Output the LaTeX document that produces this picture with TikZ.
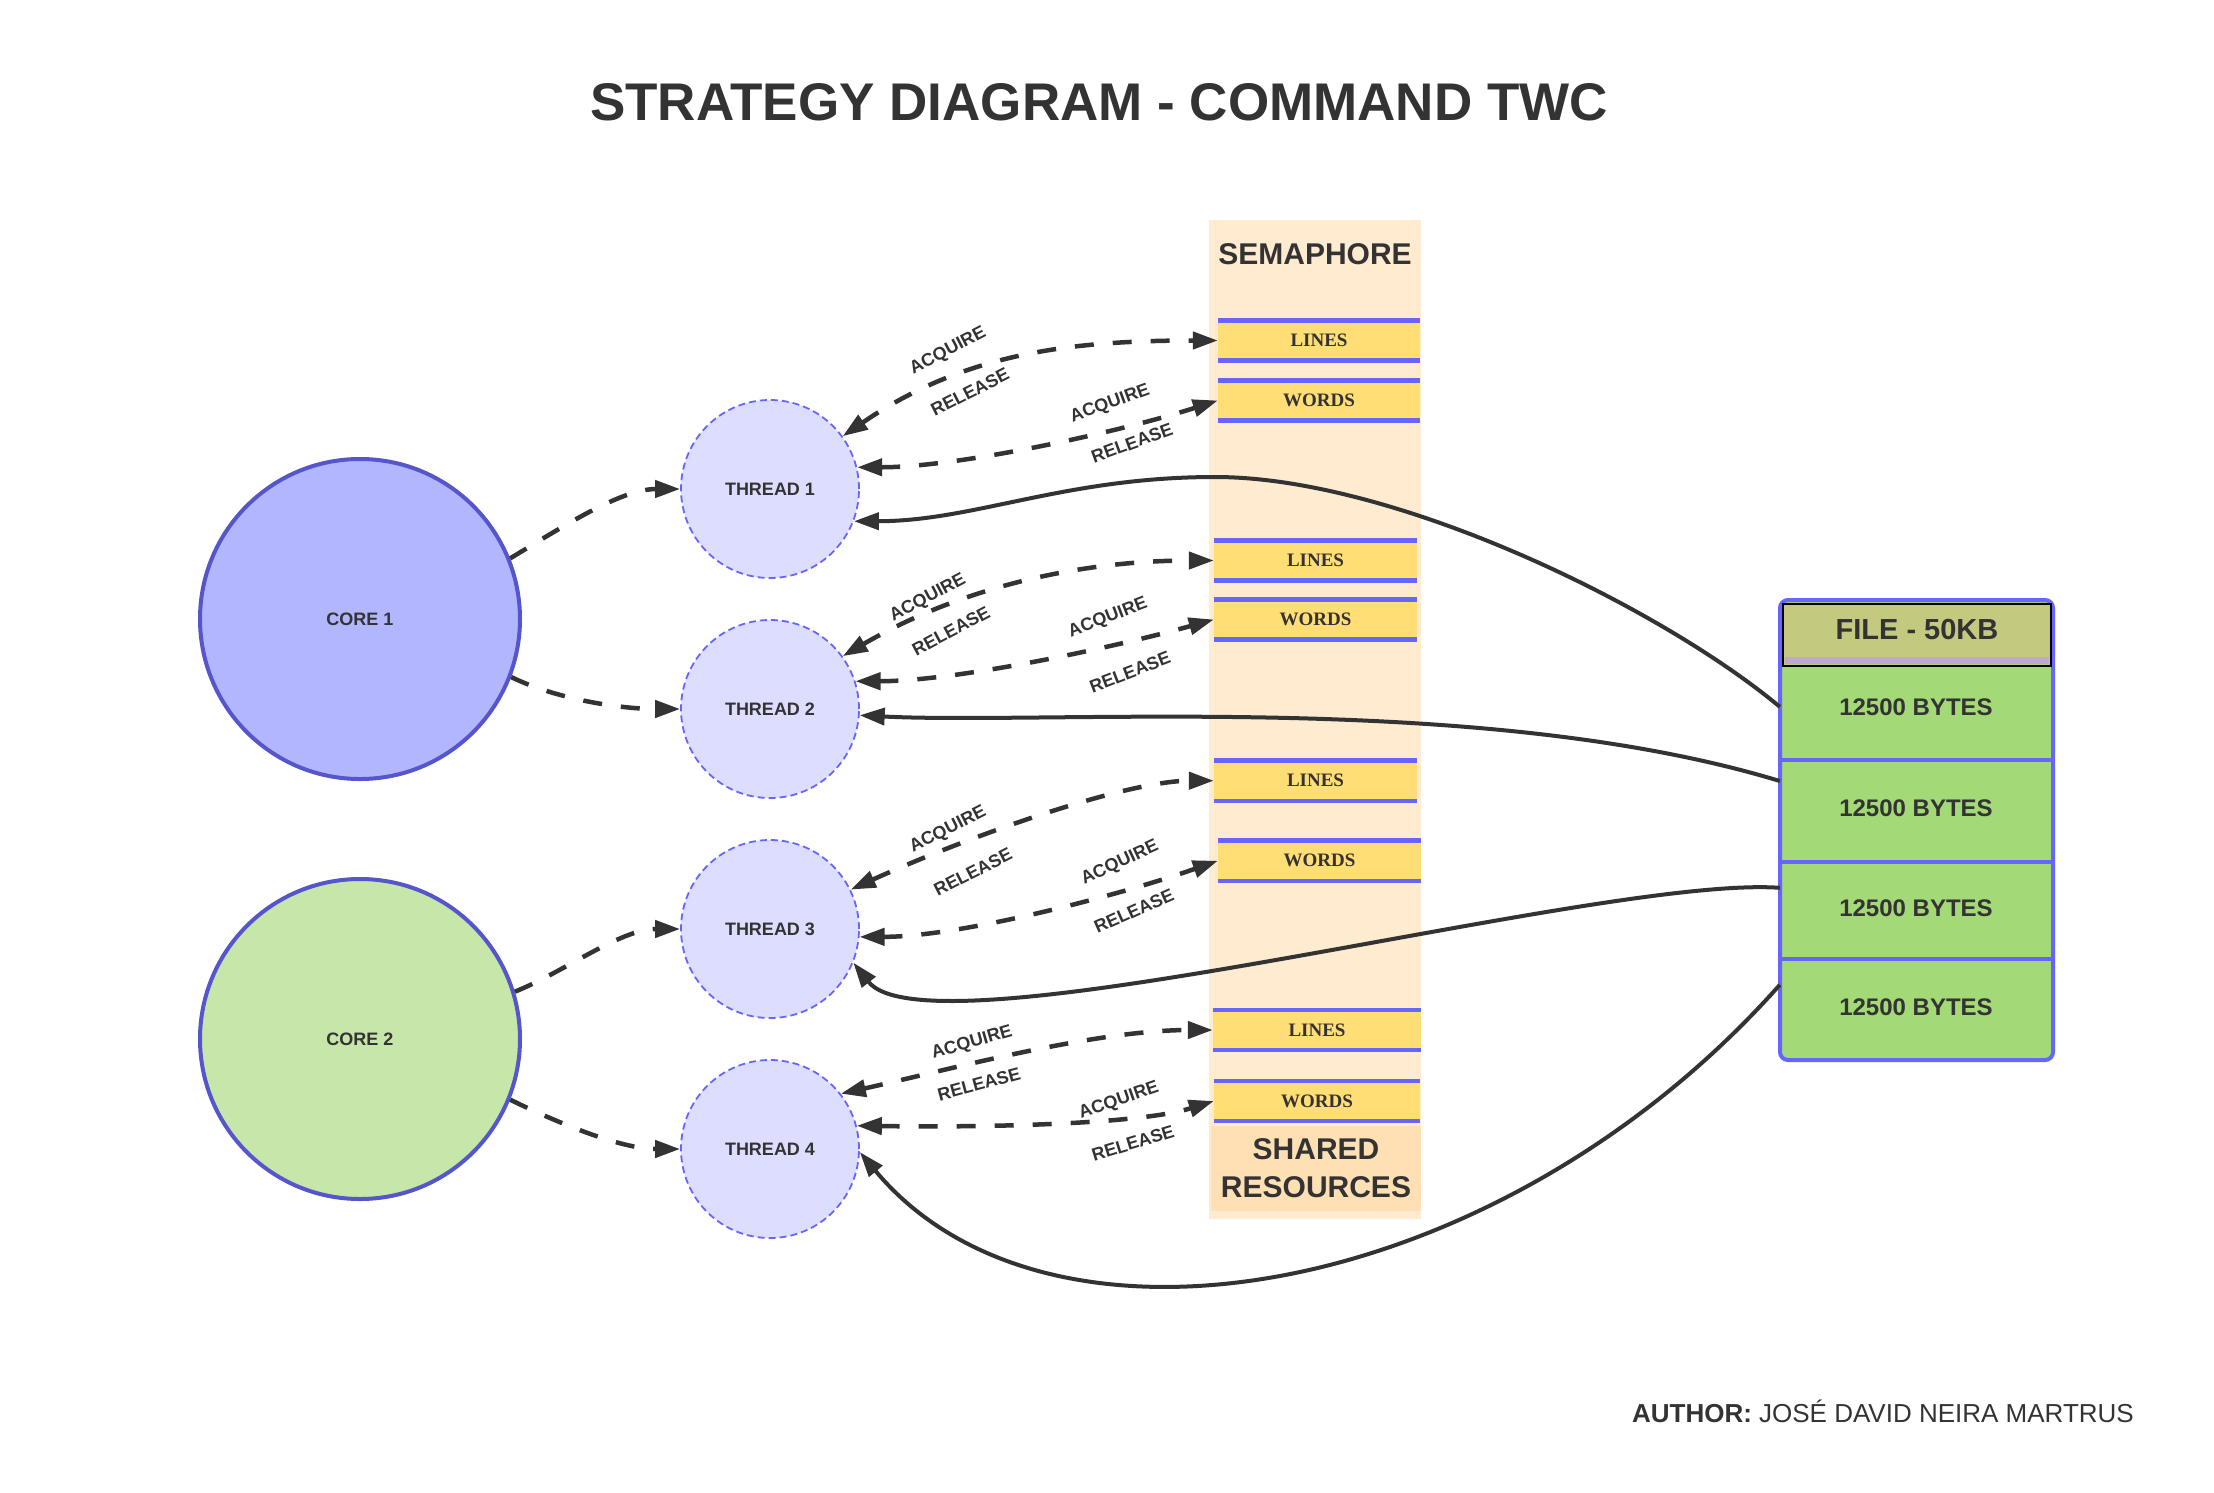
\documentclass[tikz,border=0pt]{standalone}
\usepackage{fontspec}
\setmainfont{Liberation Sans}
\newfontfamily\serifbars{Liberation Serif}
\usetikzlibrary{arrows.meta}
\definecolor{ink}{HTML}{333333}
\definecolor{coreA}{HTML}{B2B6FF}
\definecolor{coreB}{HTML}{C6E6AA}
\definecolor{coreline}{HTML}{5555CC}
\definecolor{thfill}{HTML}{DDDDFF}
\definecolor{thline}{HTML}{6666FF}
\definecolor{colfill}{HTML}{FFEBD0}
\definecolor{srfill}{HTML}{FFE0B5}
\definecolor{barfill}{HTML}{FFDE75}
\definecolor{barblue}{HTML}{6666FF}
\definecolor{hdrfill}{HTML}{C3C97F}
\definecolor{rowfill}{HTML}{A3D977}
\definecolor{stripcol}{HTML}{BBAACC}
\newcommand\pxfont[1]{\fontsize{#1}{#1}\selectfont}
\tikzset{
  corenode/.style={circle, draw=coreline, line width=4pt, minimum size=320pt, inner sep=0pt, font=\bfseries\pxfont{18}, text=ink},
  threadnode/.style={circle, draw=thline, fill=thfill, line width=1.8pt, dash pattern=on 7pt off 4pt, minimum size=178pt, inner sep=0pt, font=\bfseries\pxfont{18}, text=ink},
  barbox/.style={rectangle, fill=barfill, minimum height=40pt, inner sep=0pt, font=\serifbars\bfseries\pxfont{19}, text=ink},
  barrule/.style={draw=barblue, line width=4.5pt},
  rownode/.style={rectangle, minimum width=272pt, inner sep=0pt, font=\bfseries\pxfont{24}, text=ink, text height=17.2pt},
  lbl/.style={font=\bfseries\pxfont{18}, text=ink, inner sep=0pt},
  dasharrow/.style={draw=ink, line width=4.5pt, dash pattern=on 19pt off 19pt, -{Triangle[length=25pt,width=17pt]}},
  dblarrow/.style={draw=ink, line width=4.5pt, dash pattern=on 19pt off 19pt, {Triangle[length=25pt,width=17pt]}-{Triangle[length=25pt,width=17pt]}},
  solidarrow/.style={draw=ink, line width=4pt, -{Triangle[length=25pt,width=17pt]}},
}
\begin{document}
\begin{tikzpicture}[x=1pt,y=-1pt]
\useasboundingbox (0,0) rectangle (2214,1492);
\fill[white] (0,0) rectangle (2214,1492);

% title and author
\node[font=\bfseries\pxfont{53}, text=ink] (title) at (1099,102) {STRATEGY DIAGRAM - COMMAND TWC};
\node[anchor=east, inner sep=0pt, font=\pxfont{26}, text=ink] (author) at (2134,1411) {\textbf{AUTHOR:} JOSÉ DAVID NEIRA MARTRUS};

% semaphore column
\node[rectangle, fill=colfill, minimum width=212pt, minimum height=999pt, inner sep=0pt] (semcol) at (1315,719.5) {};
\node[font=\bfseries\pxfont{30}, text=ink] (semtitle) at (1315,254) {SEMAPHORE};
\node[rectangle, fill=srfill, minimum width=210pt, minimum height=85pt, inner sep=0pt, align=center, font=\bfseries\fontsize{30}{38}\selectfont, text=ink] (shared) at (1316,1168) {SHARED\\RESOURCES};

% semaphore bars
\node[barbox, minimum width=202pt] (bar1) at (1319,340.5) {LINES};
\node[barbox, minimum width=202pt] (bar2) at (1319,400.5) {WORDS};
\node[barbox, minimum width=203pt] (bar3) at (1315.5,560.5) {LINES};
\node[barbox, minimum width=203pt] (bar4) at (1315.5,619.5) {WORDS};
\node[barbox, minimum width=203pt] (bar5) at (1315.5,780.7) {LINES};
\node[barbox, minimum width=203pt] (bar6) at (1319.5,860.8) {WORDS};
\node[barbox, minimum width=208pt] (bar7) at (1317,1030) {LINES};
\node[barbox, minimum width=206pt] (bar8) at (1317,1101) {WORDS};
\foreach \b in {bar1,bar2,bar3,bar4,bar5,bar6,bar7,bar8}{
  \draw[barrule] (\b.north west) -- (\b.north east);
  \draw[barrule] (\b.south west) -- (\b.south east);
}

% file
\node[rectangle, rounded corners=8pt, fill=rowfill, draw=barblue, line width=4pt, minimum width=273pt, minimum height=460pt, inner sep=0pt] (file) at (1916.5,830) {};
\node[rownode, minimum height=94pt, text depth=12pt] (row1) at (1916,713) {12500 BYTES};
\node[rownode, minimum height=102pt, text depth=6pt] (row2) at (1916,811) {12500 BYTES};
\node[rownode, minimum height=97pt, text depth=5pt] (row3) at (1916,910.5) {12500 BYTES};
\node[rownode, minimum height=101pt, text depth=5pt] (row4) at (1916,1009.5) {12500 BYTES};
\draw[barrule, line width=4pt] (row1.south west) -- (row1.south east);
\draw[barrule, line width=4pt] (row2.south west) -- (row2.south east);
\draw[barrule, line width=4pt] (row3.south west) -- (row3.south east);
\node[rectangle, fill=hdrfill, minimum width=268pt, minimum height=62pt, inner sep=0pt] (hdr) at (1917,635) {};
\fill[stripcol] (1785,657) rectangle (2049,664);
\draw[black, line width=2.5pt] (hdr.north west) rectangle (hdr.south east);
\node[font=\bfseries\pxfont{29}, text=ink] (hdrtext) at (1917,630) {FILE - 50KB};

% cores and threads
\node[corenode, fill=coreA] (core1) at (360,619) {CORE 1};
\node[corenode, fill=coreB] (core2) at (360,1039) {CORE 2};
\node[threadnode] (thread1) at (770,489) {THREAD 1};
\node[threadnode] (thread2) at (770,709) {THREAD 2};
\node[threadnode] (thread3) at (770,929) {THREAD 3};
\node[threadnode] (thread4) at (770,1149) {THREAD 4};

% core -> thread
\draw[dasharrow] (core1.22) .. controls +(50,-30) and +(-60,0) .. (thread1.west);
\draw[dasharrow] (core1.-21) .. controls +(45,22) and +(-60,0) .. (thread2.west);
\draw[dasharrow] (core2.17) .. controls +(50,-20) and +(-60,0) .. (thread3.west);
\draw[dasharrow] (core2.-22) .. controls +(45,22) and +(-60,0) .. (thread4.west);

% thread <-> semaphores
\draw[dblarrow] (thread1.36) .. controls +(120,-82) and +(-150,0) .. (bar1.west);
\draw[dblarrow] (thread1.14) .. controls +(100,0) and +(-100,32) .. (bar2.west);
\draw[dblarrow] (thread2.36) .. controls +(120,-70) and +(-130,0) .. (bar3.west);
\draw[dblarrow] (thread2.18) .. controls +(100,0) and +(-100,28) .. (bar4.west);
\draw[dblarrow] (thread3.26) .. controls +(110,-50) and +(-90,0) .. (bar5.west);
\draw[dblarrow] (thread3.-5) .. controls +(100,0) and +(-100,35) .. (bar6.west);
\draw[dblarrow] (thread4.38) .. controls +(100,-22) and +(-120,0) .. (bar7.west);
\draw[dblarrow] (thread4.15) .. controls +(150,2) and +(-70,22) .. (bar8.west);

% labels
\node[lbl, rotate=27.5] (a1l) at (948,351) {ACQUIRE};
\node[lbl, rotate=27] (r1l) at (970,392) {RELEASE};
\node[lbl, rotate=20] (a1w) at (1110,404) {ACQUIRE};
\node[lbl, rotate=20] (r1w) at (1132,443) {RELEASE};
\node[lbl, rotate=28] (a2l) at (928,598) {ACQUIRE};
\node[lbl, rotate=28] (r2l) at (951,631) {RELEASE};
\node[lbl, rotate=21] (a2w) at (1108,618) {ACQUIRE};
\node[lbl, rotate=21] (r2w) at (1130,672) {RELEASE};
\node[lbl, rotate=27] (a3l) at (948,830) {ACQUIRE};
\node[lbl, rotate=27] (r3l) at (973,872) {RELEASE};
\node[lbl, rotate=25] (a3w) at (1120,863) {ACQUIRE};
\node[lbl, rotate=24] (r3w) at (1134,911) {RELEASE};
\node[lbl, rotate=16] (a4l) at (972,1043) {ACQUIRE};
\node[lbl, rotate=15] (r4l) at (979,1084) {RELEASE};
\node[lbl, rotate=19] (a4w) at (1119,1101) {ACQUIRE};
\node[lbl, rotate=17] (r4w) at (1133,1143) {RELEASE};

% file rows -> threads
\coordinate (pk1) at (1215,477);
\draw[solidarrow] ([yshift=-41pt]row1.north west) .. controls +(-120,-100) and +(180,0) .. (pk1) .. controls +(-150,0) and +(120,0) .. (thread1.-21);
\draw[solidarrow] ([yshift=30pt]row2.west) .. controls (1480,690) and (1050,725) .. (thread2.-4);
\draw[solidarrow] ([yshift=-26pt]row3.north west) .. controls (1600,875) and (930,1060) .. (thread3.-22);
\draw[solidarrow] ([yshift=-26pt]row4.north west) .. controls (1500,1300) and (1050,1380) .. (thread4.-2);
\end{tikzpicture}
\end{document}
